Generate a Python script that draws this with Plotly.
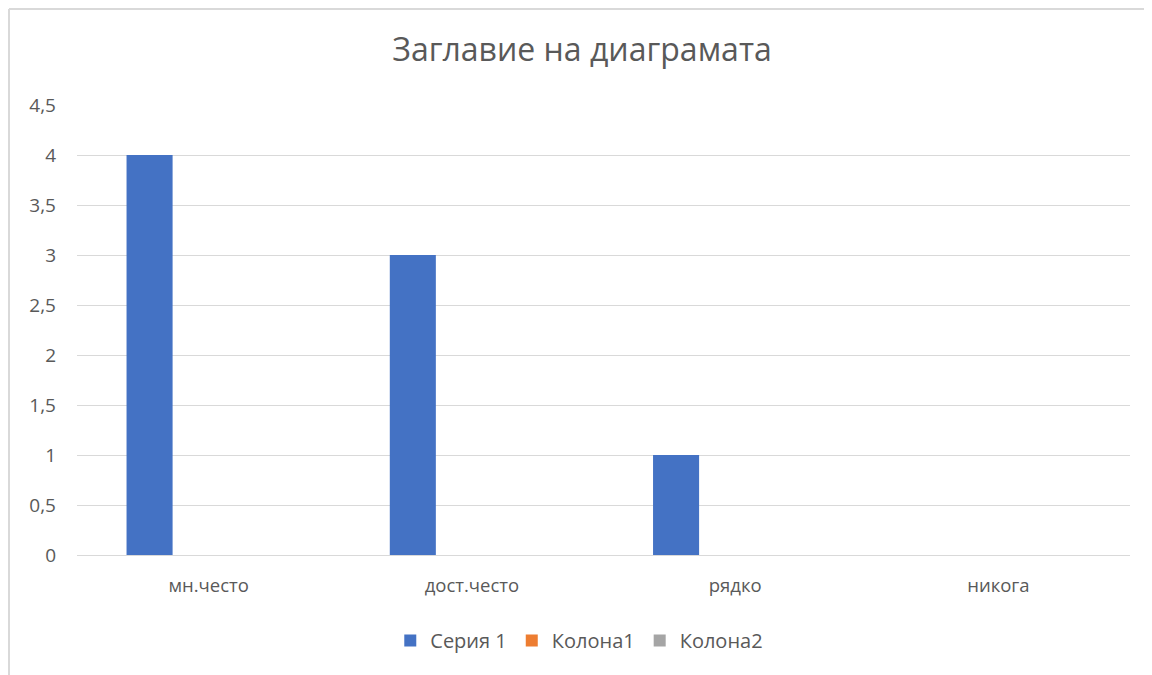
import plotly.graph_objects as go

categories = ["мн.често", "дост.често", "рядко", "никога"]
series1 = [4, 3, 1, 0]
kolona1 = [None, None, None, None]
kolona2 = [None, None, None, None]
series_names = ["Серия 1", "Колона1", "Колона2"]
colors = ["#4472C4", "#ED7D31", "#A5A5A5"]

fig = go.Figure()
for name, vals, col in zip(series_names, [series1, kolona1, kolona2], colors):
    fig.add_trace(go.Bar(x=categories, y=vals, name=name,
                         marker=dict(color=col, line=dict(width=0)),
                         showlegend=True))

font_family = "Open Sans, Noto Sans, DejaVu Sans, sans-serif"
grey = "#595959"

W, H = 1144, 667
L, T, PW, PH = 69, 97, 1053, 450

fig.update_layout(
    width=W, height=H,
    margin=dict(l=L, r=W - L - PW, t=T, b=H - T - PH),
    paper_bgcolor="white", plot_bgcolor="white",
    separators=", ",
    barmode="group", bargap=0.327, bargroupgap=0.22,
    font=dict(family=font_family, color=grey, size=18),
    title=dict(text="Заглавие на диаграмата", x=574 / W, xanchor="center",
               y=1 - 42 / H, yanchor="middle",
               font=dict(size=32, color=grey, family=font_family)),
    legend=dict(orientation="h", x=0.477, xanchor="center",
                y=-0.19, yanchor="middle", font=dict(size=20, color=grey),
                itemwidth=30, traceorder="normal"),
    xaxis=dict(showgrid=False, showline=False, ticks="", ticklabelstandoff=17,
               tickfont=dict(size=18.5, color=grey)),
    yaxis=dict(range=[0, 4.5], dtick=0.5, tick0=0, showgrid=True,
               gridcolor="#D9D9D9", gridwidth=1.3, zeroline=True,
               zerolinecolor="#D9D9D9", zerolinewidth=1.3, showline=False,
               ticks="", ticklabelstandoff=20, tickfont=dict(size=19, color=grey)),
    shapes=[
        dict(type="line", xref="paper", yref="paper",
             x0=(1 - L) / PW, x1=(W + 10 - L) / PW,
             y0=1 + (T - 1) / PH, y1=1 + (T - 1) / PH,
             line=dict(color="#D9D9D9", width=2)),
        dict(type="line", xref="paper", yref="paper",
             x0=(1 - L) / PW, x1=(1 - L) / PW,
             y0=1 + (T - 1) / PH, y1=-(H - T - PH + 10) / PH,
             line=dict(color="#D9D9D9", width=2)),
    ],
)

fig.write_html("out.html")
